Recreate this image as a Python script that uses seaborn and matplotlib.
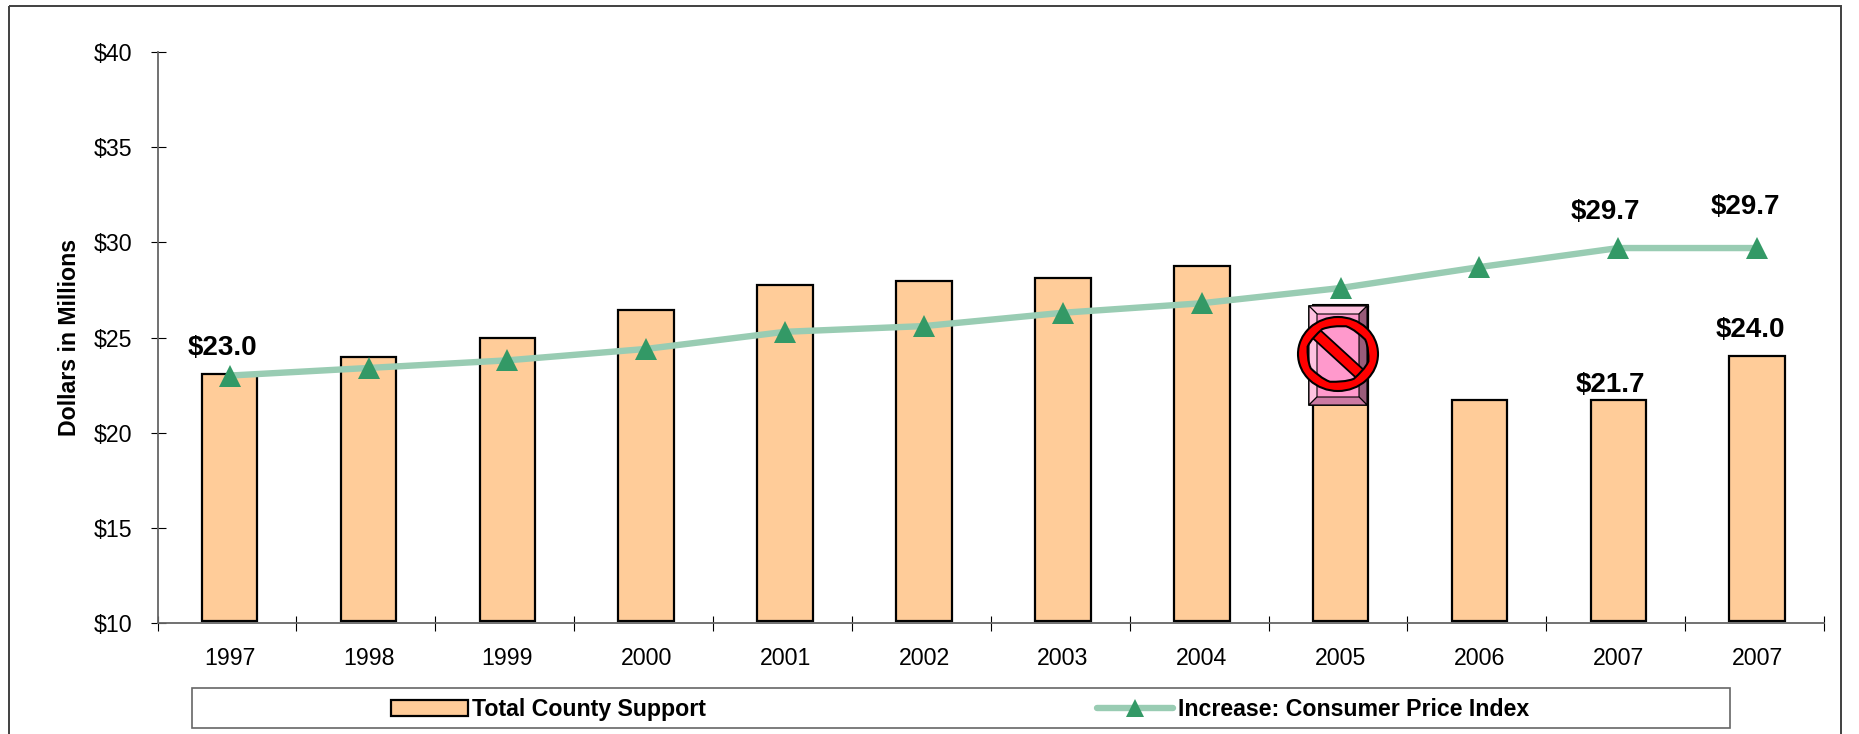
#!/usr/bin/env python3
"""County support bars against the CPI increase line."""

import numpy as np
import pandas as pd
import matplotlib
matplotlib.use("Agg")
import matplotlib.pyplot as plt
from matplotlib.patches import PathPatch, Polygon, Rectangle
from matplotlib.path import Path
from matplotlib.transforms import Affine2D
import seaborn as sns

year_labels = ["1997", "1998", "1999", "2000", "2001", "2002",
               "2003", "2004", "2005", "2006", "2007", "2007"]
county_support = [23.1, 23.95, 25.0, 26.45, 27.75, 27.95,
                  28.1, 28.75, 26.6, 21.7, 21.7, 24.05]
cpi_increase = [23.0, 23.4, 23.8, 24.4, 25.3, 25.6,
                26.3, 26.8, 27.6, 28.7, 29.7, 29.7]
y_ticks = [10, 15, 20, 25, 30, 35, 40]

W, H = 1859, 734
FONT = "Liberation Sans"
BAR_COLOR = "#FFCC99"
LINE_COLOR = "#99CCB3"
MARKER_COLOR = "#339966"
X_LEFT = -0.519  # categories sit a touch right of centre between the ticks

sns.set_theme(style="white")
plt.rcParams["font.family"] = [FONT, "DejaVu Sans"]

df = pd.DataFrame({"pos": range(len(year_labels)),
                   "support": county_support,
                   "cpi": cpi_increase})

fig = plt.figure(figsize=(W / 100, H / 100), dpi=100, facecolor="white")
ax = fig.add_axes([157.6 / W, 1 - 623 / H, (1824 - 157.6) / W, (623 - 52) / H])

sns.barplot(data=df, x="pos", y="support", color=BAR_COLOR, saturation=1,
            width=0.4, edgecolor="black", linewidth=1.6,
            label="Total County Support", ax=ax)
# bars start on the $10 baseline so their bottom edge shows
for patch in ax.patches:
    top = patch.get_height()
    patch.set_y(10.08)
    patch.set_height(top - 10.08)

sns.lineplot(data=df, x="pos", y="cpi", color=LINE_COLOR, linewidth=4.6,
             marker="^", markersize=16.5, markerfacecolor=MARKER_COLOR,
             markeredgewidth=0, estimator=None, sort=False,
             label="Increase: Consumer Price Index", ax=ax)

ax.set_xlim(X_LEFT, X_LEFT + len(year_labels))
ax.set_ylim(10, 40)
ax.set_xlabel("")
ax.set_ylabel("Dollars in Millions", fontsize=16.7, fontweight="bold",
              color="black", labelpad=0)
ax.yaxis.set_label_coords((81 - 157.6) / (1824 - 157.6), 1 - (337 - 52) / (623 - 52))

for side in ["top", "right"]:
    ax.spines[side].set_visible(False)
for side in ["left", "bottom"]:
    ax.spines[side].set_color("#666666")
    ax.spines[side].set_linewidth(1.3)

# tick marks sit between the categories, labels in the middle
ax.set_xticks(X_LEFT + np.arange(len(year_labels) + 1))
ax.set_xticklabels([])
ax.set_xticks(df["pos"], labels=year_labels, minor=True)
ax.tick_params(axis="x", which="major", direction="inout", length=10.8,
               width=0.8, color="black", bottom=True)
ax.tick_params(axis="x", which="minor", length=0, pad=17, labelsize=16.7,
               labelcolor="black", bottom=True)
ax.set_yticks(y_ticks, labels=[f"${v}" for v in y_ticks])
ax.tick_params(axis="y", direction="inout", length=10.8, width=0.8,
               color="black", pad=13, labelsize=16.7, labelcolor="black", left=True)


def label(x, y, text, dx, dy):
    ax.annotate(text, (x, y), xytext=(dx * 0.72, dy * 0.72), textcoords="offset points",
                ha="center", va="center", fontsize=20, fontweight="bold",
                color="black", annotation_clip=False)


label(0, cpi_increase[0], "$23.0", -7.5, 27.5)
label(10, cpi_increase[10], "$29.7", -13, 36)
label(11, cpi_increase[11], "$29.7", -12, 41)
label(10, county_support[10], "$21.7", -8, 15)
label(11, county_support[11], "$24.0", -7, 26)

# legend: box drawn apart, entries centred in it
handles, texts = ax.get_legend_handles_labels()
ax.get_legend().remove()
fig.legend(handles[::-1], texts[::-1], ncols=2, loc="center",
           bbox_to_anchor=(960.3 / W, 1 - 709.5 / H), frameon=False,
           prop={"family": FONT, "weight": "bold", "size": 16.7}, labelcolor="black",
           handlelength=3.3, handleheight=0.7, handletextpad=0.2, columnspacing=16.84,
           borderpad=0, borderaxespad=0, markerscale=0.75)

# overlay shapes are placed in image pixels, y down
px = Affine2D().scale(1, -1).translate(0, H)


def add(artist, z):
    artist.set_transform(px)
    artist.set_zorder(z)
    fig.add_artist(artist)


add(Rectangle((8.5, 5.5), 1832, 740, facecolor="none", edgecolor="#404040", linewidth=1.4), 1)
add(Rectangle((192, 688), 1538, 40, facecolor="none", edgecolor="#666666", linewidth=1.2), 1)

# pink bevel box
bx0, bx1, by0, by1, inset = 1309, 1367, 306, 405, 8
add(Rectangle((1312, 304), 56, 3, facecolor="#7A6650", edgecolor="black", linewidth=0.8), 5)
add(Rectangle((bx0, by0), bx1 - bx0, by1 - by0, facecolor="#FF99CC", edgecolor="black", linewidth=1.2), 5)
sides = [
    ("#FFC2E0", [(bx0, by0), (bx1, by0), (bx1 - inset, by0 + inset), (bx0 + inset, by0 + inset)]),
    ("#FFC2E0", [(bx0, by0), (bx0 + inset, by0 + inset), (bx0 + inset, by1 - inset), (bx0, by1)]),
    ("#995C7A", [(bx1, by0), (bx1, by1), (bx1 - inset, by1 - inset), (bx1 - inset, by0 + inset)]),
    ("#CC7AA3", [(bx0, by1), (bx0 + inset, by1 - inset), (bx1 - inset, by1 - inset), (bx1, by1)]),
]
for color, corners in sides:
    add(Polygon(corners, closed=True, facecolor=color, edgecolor="black", linewidth=0.8), 5)

# "no" sign on top of it
add(Polygon([(1310, 335.6), (1319, 329), (1366, 372), (1358, 379.5)], closed=True,
            facecolor="#FF0000", edgecolor="black", linewidth=1.3), 6)
outer = Path.unit_circle()
inner = Path(outer.vertices[::-1] * np.array([0.76, 0.75]), outer.codes)
ring = Path.make_compound_path(outer, inner)
ring_patch = PathPatch(ring, facecolor="#FF0000", edgecolor="black", linewidth=1.5)
ring_patch.set_transform(Affine2D().scale(40, 37).translate(1338, 354) + px)
ring_patch.set_zorder(6)
fig.add_artist(ring_patch)

fig.savefig("out.png", dpi=100)
